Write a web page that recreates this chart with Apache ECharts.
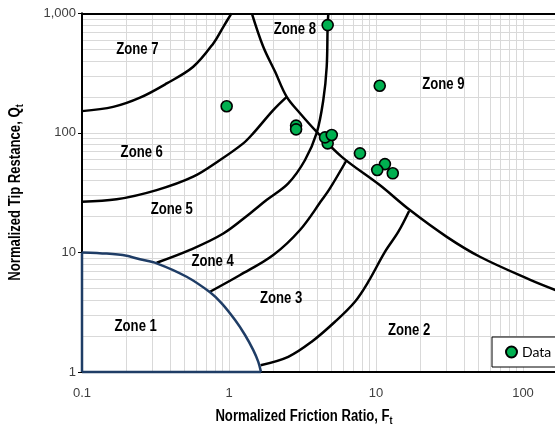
<!DOCTYPE html>
<html><head><meta charset="utf-8">
<script src="https://cdn.jsdelivr.net/npm/echarts@6/dist/echarts.min.js"></script>
<style>html,body{margin:0;padding:0;background:#fff}#c{width:555px;height:430px}</style>
</head><body><div id="c"></div>
<script>
// ---- data ----
const xTicks = [0.1, 1, 10, 100, 1000];
const yTicks = [1, 10, 100, 1000];
const minorMultipliers = [2, 3, 4, 5, 6, 7, 8, 9];

const dataPoints = [
  [0.964, 167], [2.86, 115], [2.86, 107], [4.69, 81.7], [4.50, 91.7], [5.0, 95.9],
  [7.78, 67.4], [11.5, 54.8], [10.2, 48.9], [13.0, 45.9], [10.6, 248], [4.69, 797]
];
// zone 1 boundary (blue)
const zone1Curve = [[0.1, 10], [0.147, 9.78], [0.201, 9.38], [0.248, 8.76], [0.322, 8.11], [0.515, 6.26],
  [0.743, 4.64], [0.892, 3.75], [1.10, 2.72], [1.285, 2.04], [1.46, 1.53], [1.58, 1.22], [1.65, 1.0]];
const zone1Left = [[0.1, 1], [0.1, 10]];
const zone1Bottom = [[0.1, 1], [1.65, 1]];
// zone 7 / zone 6
const curve76 = [[0.1, 152], [0.163, 165], [0.248, 197], [0.377, 259], [0.571, 357], [0.782, 560], [0.915, 771], [1.04, 1000]];
// zone 8 / zone 7 continuing as zone 9 lower boundary
const curveA = [[1.43, 1000], [1.71, 525], [2.06, 324], [2.47, 200], [3.04, 146], [3.95, 102], [5.85, 63],
  [10.6, 36.6], [17.0, 22.6], [30.3, 13.5], [50.9, 9.2], [112, 5.9], [170, 4.8]];
// zone 6 / zone 5
const curve65 = [[0.1, 26.5], [0.172, 27.8], [0.322, 33.2], [0.571, 43], [0.869, 59.3], [1.25, 81.7], [1.46, 99], [2.0, 155], [2.47, 200]];
// zone 8 / zone 9 continuing as zone 5 / zone 4
const curveC = [[4.74, 1000], [4.69, 797], [4.62, 357], [4.38, 188], [3.95, 100], [3.29, 59.3], [2.53, 37.8],
  [1.80, 27.4], [1.39, 21.2], [0.915, 14.4], [0.543, 10.5], [0.322, 8.2]];
// zone 4 / zone 3
const curve43 = [[0.743, 4.69], [1.19, 6.47], [2.0, 9.51], [3.04, 15.4], [4.28, 27.4], [4.86, 34.3], [6.32, 59.3]];
// zone 3 / zone 2
const curve32 = [[1.64, 1.14], [2.53, 1.34], [3.65, 1.79], [5.26, 2.63], [7.19, 3.87], [8.87, 5.69], [11.5, 10.1], [14.2, 14.9], [16.8, 22.2]];

const zoneNames = ['Zone 1', 'Zone 2', 'Zone 3', 'Zone 4', 'Zone 5', 'Zone 6', 'Zone 7', 'Zone 8', 'Zone 9'];
const zoneAnchors = [[0.232, 2.42], [16.8, 2.24], [2.26, 4.08], [0.774, 8.36], [0.408, 22.9], [0.255, 68.2], [0.238, 499], [2.81, 724], [28.7, 251]];

const xTitle = 'Normalized Friction Ratio, F';
const yTitle = 'Normalized Tip Restance, Q';
const titleSub = 't';

// ---- chart ----
const boldFont = '"Liberation Sans", Arial, sans-serif';
const plain = '"Liberation Sans", Arial, sans-serif';
const narrowScale = 0.82;

const xMinor = [], yMinor = [];
xTicks.slice(0, -1).forEach(d => minorMultipliers.forEach(m => xMinor.push({ xAxis: +(d * m).toPrecision(6) })));
yTicks.slice(0, -1).forEach(d => minorMultipliers.forEach(m => yMinor.push({ yAxis: +(d * m).toPrecision(6) })));

function fmt(v) { const n = +(+v).toPrecision(6); return n >= 1000 ? n.toLocaleString('en-US') : String(n); }

function curve(data, smooth) {
  return { type: 'line', data, smooth: smooth === undefined ? 0.35 : smooth, showSymbol: false, symbol: 'none', z: 5,
    lineStyle: { color: '#000', width: 2.5 }, silent: true, clip: true };
}
function blue(data, smooth) {
  return { type: 'line', data, smooth: smooth || false, showSymbol: false, symbol: 'none', z: 6, clip: false,
    lineStyle: { color: '#1F3D66', width: 2.5 }, silent: true };
}

const gridGray = '#d9d9d9';
const chart = echarts.init(document.getElementById('c'), null, { renderer: 'canvas' });
chart.setOption({
  animation: false,
  grid: { left: 82, top: 13.3, bottom: 58, right: -115, containLabel: false, outerBoundsMode: 'none' },
  xAxis: [{
    type: 'log', logBase: 10, min: 0.1, max: 1000, z: 3,
    axisLine: { show: true, lineStyle: { color: '#000', width: 2 } },
    axisTick: { show: false },
    axisLabel: { color: '#404040', fontSize: 13, fontFamily: plain, margin: 15, formatter: fmt },
    splitLine: { show: true, showMinLine: false, lineStyle: { color: gridGray, width: 1 } }
  }, {
    type: 'log', logBase: 10, min: 0.1, max: 1000, position: 'top', z: 3,
    axisLine: { show: true, onZero: false, lineStyle: { color: '#000', width: 2 } },
    axisTick: { show: false }, axisLabel: { show: false }, splitLine: { show: false }
  }],
  yAxis: {
    type: 'log', logBase: 10, min: 1, max: 1000, z: 3,
    axisLine: { show: true, lineStyle: { color: '#000', width: 2 } },
    axisTick: { show: true, length: 4, lineStyle: { color: '#000', width: 1 } },
    axisLabel: { color: '#404040', fontSize: 13, fontFamily: plain, margin: 6, formatter: fmt },
    splitLine: { show: true, showMinLine: false, showMaxLine: false, lineStyle: { color: gridGray, width: 1 } }
  },
  legend: {
    data: ['Data'], left: 492, top: 337, orient: 'horizontal',
    backgroundColor: '#fff', borderColor: '#000', borderWidth: 1, borderRadius: 0,
    padding: [8, 40, 8, 13], itemWidth: 11, itemHeight: 11, itemGap: 5,
    textStyle: { fontSize: 14, fontFamily: 'Lato, "Open Sans", sans-serif', color: '#000' }
  },
  series: [
    { type: 'line', data: [[0.1, 1]], symbol: 'none', showSymbol: false, lineStyle: { width: 0 }, silent: true, z: 1,
      markLine: { z: 1, silent: true, symbol: ['none', 'none'], label: { show: false }, animation: false,
        lineStyle: { color: gridGray, width: 1, type: 'solid' }, emphasis: { disabled: true },
        data: xMinor.concat(yMinor) } },
    curve(curve76), curve(curveA), curve(curve65), curve(curveC), curve(curve43), curve(curve32),
    blue(zone1Curve, 0.3), blue(zone1Left), blue(zone1Bottom),
    { name: 'Data', type: 'scatter', data: dataPoints, symbol: 'circle', symbolSize: 11, z: 7,
      itemStyle: { color: '#00B050', borderColor: '#000', borderWidth: 1.6, opacity: 1 } }
  ]
});

// zone labels: anchored in data space, converted through the chart's own scales
const labelGraphics = zoneNames.map((n, i) => {
  const p = chart.convertToPixel({ gridIndex: 0 }, zoneAnchors[i]);
  return { type: 'text', x: p[0], y: p[1], scaleX: narrowScale, z: 20, silent: true,
    style: { text: n, align: 'center', verticalAlign: 'middle', fill: '#000',
      font: 'bold 16px ' + boldFont } };
});
const titleRich = {
  m: { fontFamily: boldFont, fontWeight: 'bold', fontSize: 16, fill: '#000', color: '#000' },
  s: { fontFamily: boldFont, fontWeight: 'bold', fontSize: 11, fill: '#000', color: '#000', padding: [8, 0, 0, 0] }
};
chart.setOption({
  graphic: labelGraphics.concat([
    { type: 'text', x: 304, y: 417, scaleX: narrowScale, z: 20, silent: true,
      style: { text: '{m|' + xTitle + '}{s|' + titleSub + '}', align: 'center', verticalAlign: 'middle', rich: titleRich } },
    { type: 'text', x: 16, y: 192.5, rotation: Math.PI / 2, scaleX: narrowScale, z: 20, silent: true,
      style: { text: '{m|' + yTitle + '}{s|' + titleSub + '}', align: 'center', verticalAlign: 'middle', rich: titleRich } }
  ])
});
</script></body></html>
